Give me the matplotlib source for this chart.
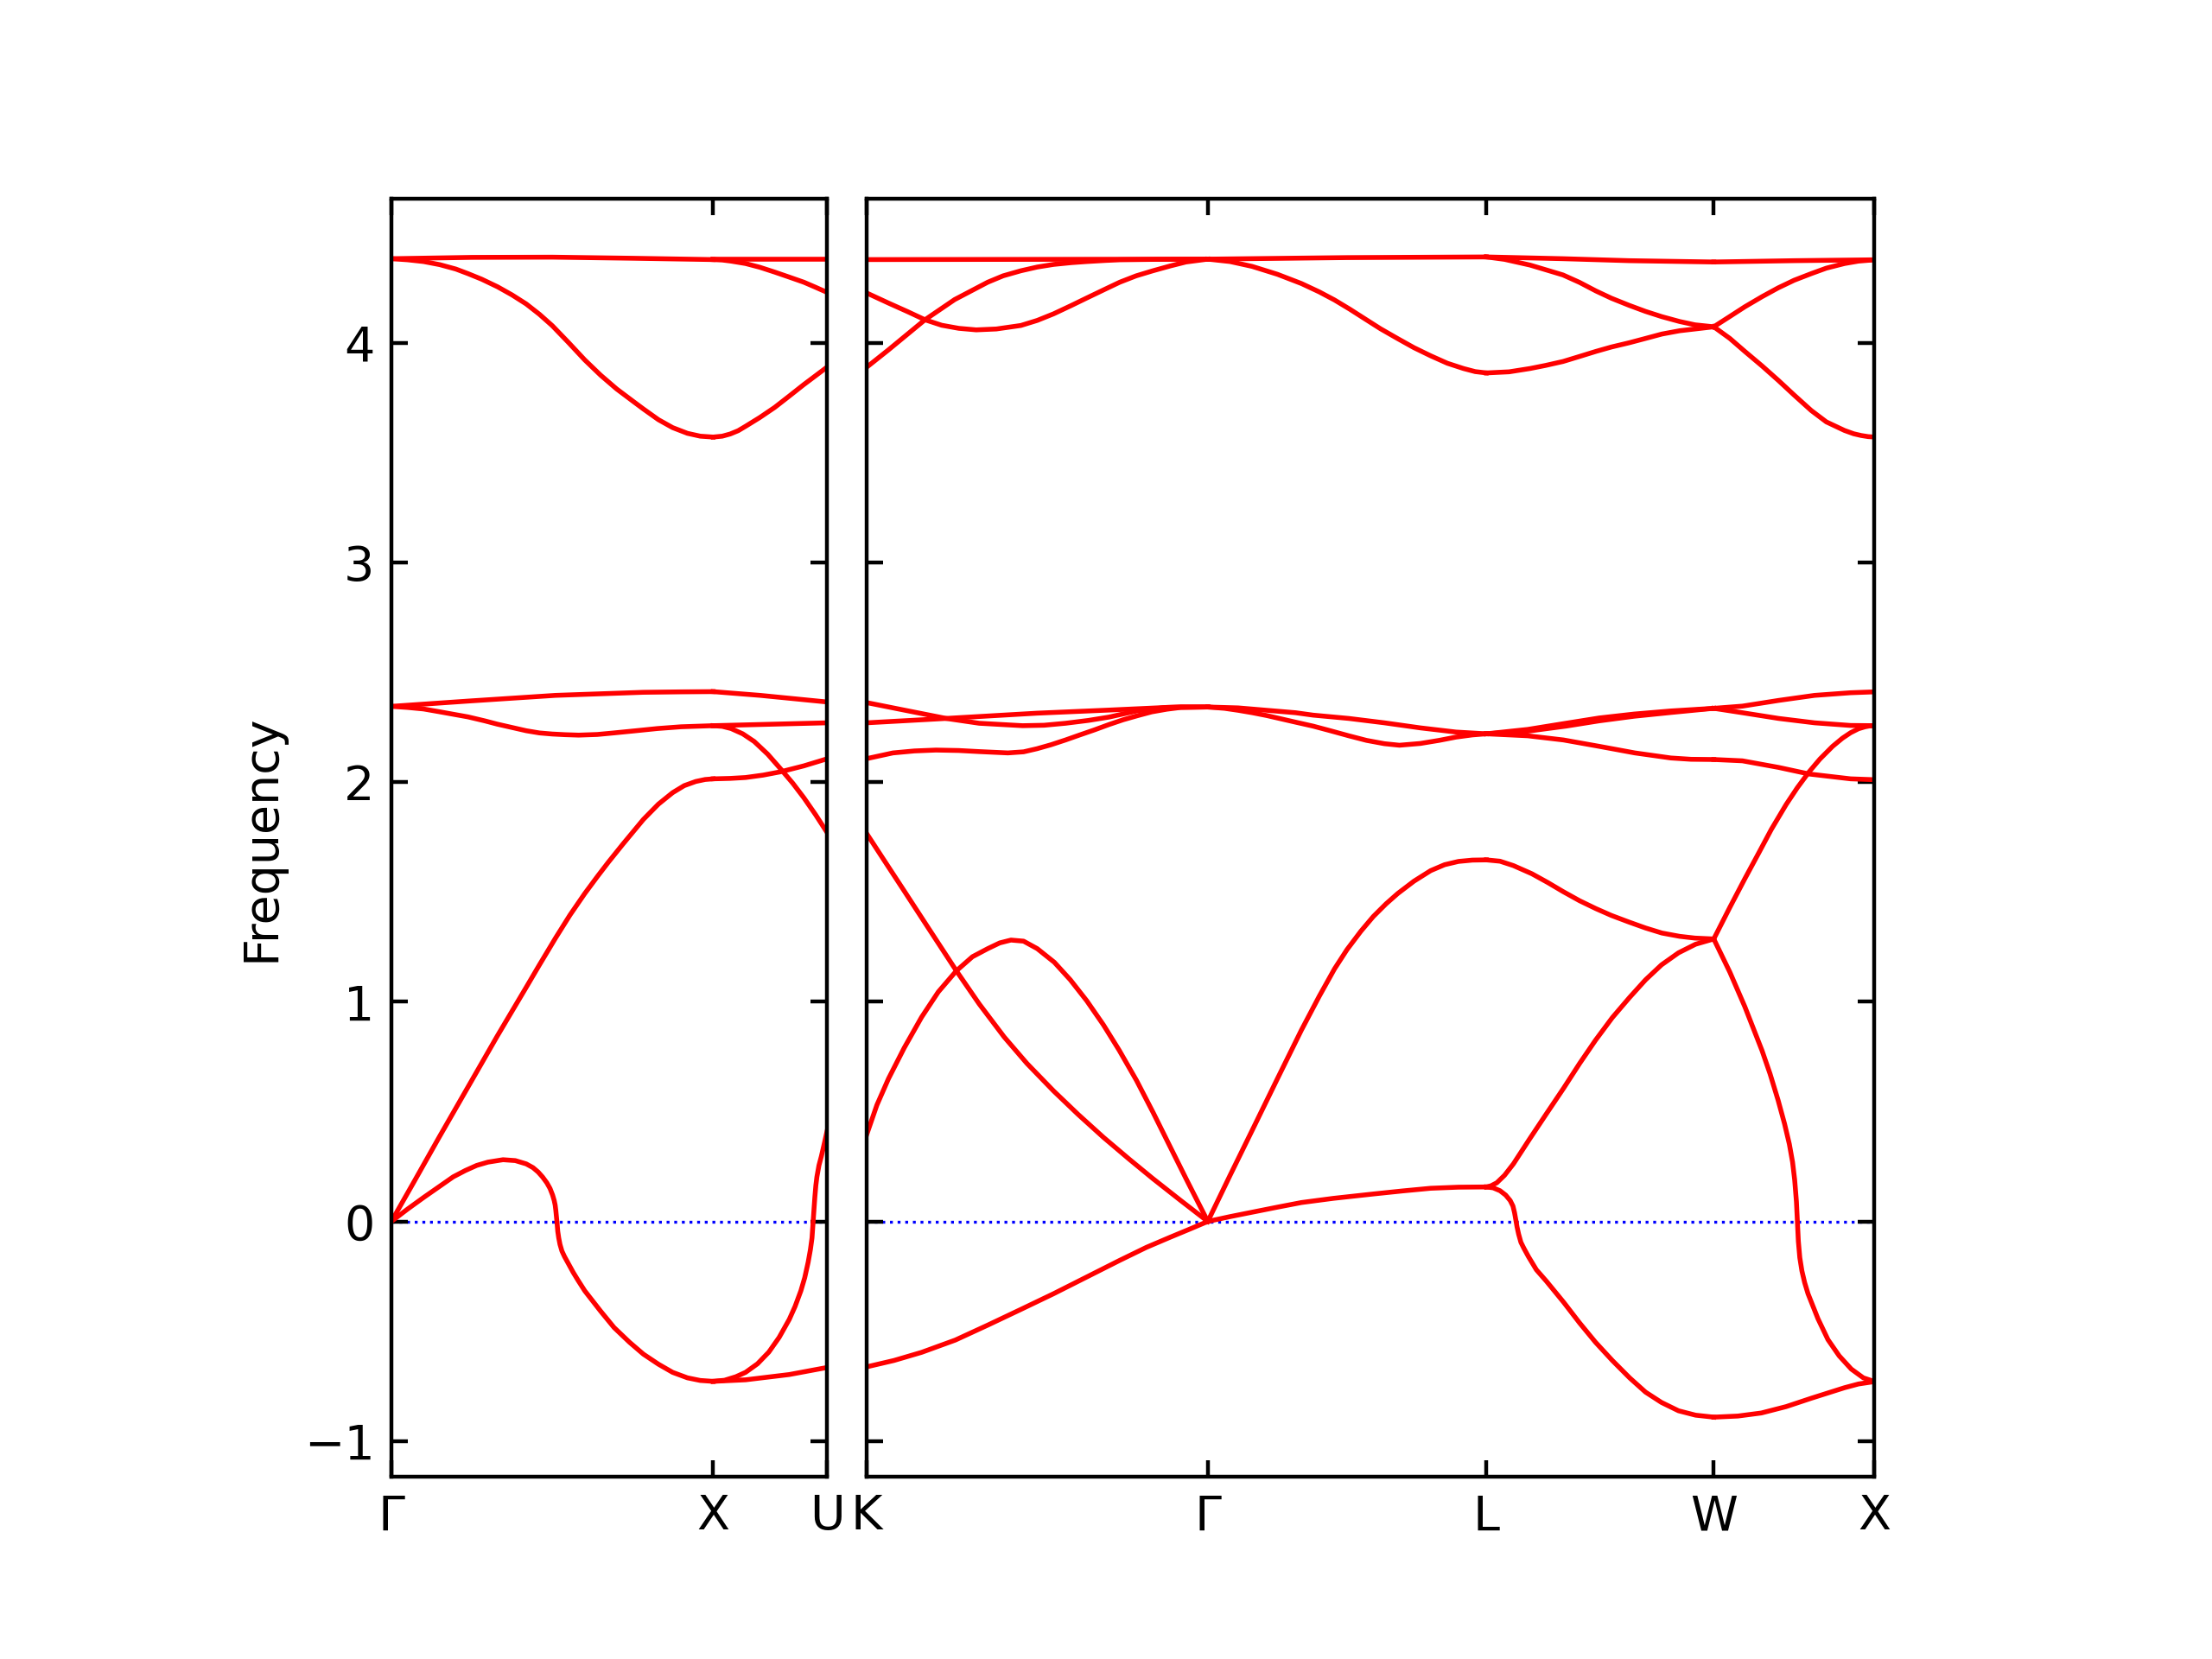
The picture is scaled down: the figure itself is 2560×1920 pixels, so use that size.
import numpy as np
import matplotlib
matplotlib.use("Agg")
import matplotlib.pyplot as plt

# ---------------- path geometry ----------------
# x-distance covered by every segment of the q-path
seg_lengths = [1.0, 0.35355, 1.06066, 0.86603, 0.70711, 0.5]   # Γ-X, X-U, K-Γ, Γ-L, L-W, W-X
left_labels = ["Γ", "X", "U"]
right_labels = ["K", "Γ", "L", "W", "X"]
yticks = [-1, 0, 1, 2, 3, 4]
ylim = (-1.162, 4.656)

# ---------------- band data ----------------
# every branch: (fractional position along the segment, frequency)
band_GX = [
    ([0, 0.25, 0.5, 0.75, 1], [4.383, 4.389, 4.390, 4.385, 4.379]),
    ([0, 0.05, 0.1, 0.15, 0.2, 0.238, 0.28, 0.33, 0.375, 0.419, 0.46, 0.5, 0.55, 0.601,
      0.65, 0.7, 0.75, 0.783, 0.83, 0.874, 0.92, 0.96, 1],
     [4.383, 4.378, 4.370, 4.356, 4.336, 4.315, 4.290, 4.255, 4.218, 4.177, 4.130, 4.078,
      4.002, 3.922, 3.853, 3.790, 3.735, 3.699, 3.650, 3.614, 3.588, 3.575, 3.571]),
    ([0, 0.238, 0.51, 0.783, 0.9, 1], [2.345, 2.369, 2.395, 2.409, 2.411, 2.412]),
    ([0, 0.05, 0.1, 0.147, 0.2, 0.238, 0.29, 0.329, 0.38, 0.419, 0.46, 0.5, 0.54, 0.582,
      0.64, 0.691, 0.76, 0.827, 0.9, 1],
     [2.345, 2.340, 2.333, 2.321, 2.307, 2.297, 2.279, 2.264, 2.247, 2.234, 2.224, 2.219,
      2.216, 2.214, 2.217, 2.224, 2.234, 2.244, 2.252, 2.257]),
    ([0, 0.07, 0.147, 0.238, 0.329, 0.419, 0.46, 0.51, 0.555, 0.601, 0.64, 0.674, 0.719,
      0.783, 0.83, 0.874, 0.91, 0.946, 0.975, 1],
     [0, 0.180, 0.380, 0.612, 0.844, 1.066, 1.168, 1.290, 1.395, 1.493, 1.570, 1.635, 1.717,
      1.830, 1.900, 1.952, 1.984, 2.003, 2.012, 2.015]),
    ([0, 0.05, 0.101, 0.15, 0.192, 0.23, 0.265, 0.3, 0.347, 0.385, 0.419, 0.44, 0.456, 0.47,
      0.483, 0.493, 0.501, 0.506, 0.509, 0.511, 0.513, 0.515, 0.517, 0.52, 0.524, 0.53,
      0.538, 0.55, 0.565, 0.58, 0.601, 0.65, 0.692, 0.74, 0.783, 0.83, 0.874, 0.92, 0.96, 1],
     [0, 0.056, 0.110, 0.160, 0.203, 0.232, 0.255, 0.270, 0.281, 0.277, 0.262, 0.245, 0.225,
      0.202, 0.176, 0.150, 0.120, 0.095, 0.074, 0.050, 0.020, -0.010, -0.045, -0.075,
      -0.105, -0.135, -0.160, -0.192, -0.232, -0.268, -0.316, -0.408, -0.483, -0.550,
      -0.604, -0.650, -0.687, -0.712, -0.724, -0.728]),
]

band_XU = [
    ([0, 0.5, 1], [4.379, 4.379, 4.379]),
    ([0, 0.08, 0.157, 0.285, 0.41, 0.541, 0.67, 0.797, 0.9, 1],
     [4.379, 4.377, 4.372, 4.361, 4.344, 4.322, 4.299, 4.276, 4.253, 4.230]),
    ([0, 0.08, 0.15, 0.22, 0.285, 0.41, 0.541, 0.67, 0.797, 0.9, 1],
     [3.571, 3.575, 3.585, 3.600, 3.620, 3.660, 3.706, 3.758, 3.810, 3.850, 3.889]),
    ([0, 0.413, 1], [2.412, 2.395, 2.365]),
    ([0, 1], [2.257, 2.270]),
    ([0, 0.08, 0.157, 0.26, 0.361, 0.48, 0.592, 0.7, 0.797, 0.9, 1],
     [2.257, 2.254, 2.244, 2.220, 2.185, 2.127, 2.061, 1.995, 1.929, 1.852, 1.772]),
    ([0, 0.15, 0.285, 0.44, 0.592, 0.797, 1], [2.015, 2.017, 2.021, 2.032, 2.047, 2.074, 2.106]),
    ([0, 0.285, 0.669, 1], [-0.728, -0.721, -0.697, -0.665]),
    ([0, 0.1, 0.2, 0.285, 0.39, 0.489, 0.58, 0.669, 0.72, 0.771, 0.805, 0.835, 0.855, 0.869,
      0.879, 0.887, 0.894, 0.903, 0.912, 0.93, 0.951, 0.975, 1.0],
     [-0.728, -0.723, -0.707, -0.687, -0.648, -0.595, -0.528, -0.446, -0.387, -0.316, -0.256,
      -0.186, -0.128, -0.075, 0.0, 0.060, 0.111, 0.165, 0.203, 0.255, 0.296, 0.350, 0.408]),
]

band_KG = [
    ([0, 1], [4.379, 4.381]),
    ([0, 0.064, 0.12, 0.171, 0.22, 0.27, 0.321, 0.38, 0.452, 0.5, 0.548, 0.6, 0.645, 0.7,
      0.742, 0.79, 0.839, 0.89, 0.936, 1],
     [4.227, 4.181, 4.142, 4.105, 4.080, 4.066, 4.059, 4.063, 4.079, 4.102, 4.132, 4.170,
      4.204, 4.245, 4.276, 4.305, 4.328, 4.350, 4.368, 4.381]),
    ([0, 0.064, 0.171, 0.258, 0.355, 0.4, 0.452, 0.5, 0.548, 0.6, 0.645, 0.7, 0.742, 0.85, 1],
     [3.889, 3.968, 4.105, 4.197, 4.276, 4.305, 4.328, 4.345, 4.357, 4.365, 4.370, 4.375,
      4.378, 4.380, 4.381]),
    ([0, 0.1, 0.233, 0.33, 0.457, 0.52, 0.583, 0.65, 0.71, 0.794, 0.878, 0.921, 1],
     [2.362, 2.331, 2.290, 2.268, 2.257, 2.259, 2.268, 2.281, 2.296, 2.325, 2.340, 2.343, 2.342]),
    ([0, 0.233, 0.5, 0.71, 0.878, 1], [2.270, 2.290, 2.314, 2.328, 2.340, 2.342]),
    ([0, 0.077, 0.14, 0.203, 0.27, 0.330, 0.414, 0.46, 0.499, 0.54, 0.583, 0.625, 0.668,
      0.71, 0.752, 0.795, 0.836, 0.88, 0.921, 1],
     [2.107, 2.133, 2.142, 2.146, 2.144, 2.139, 2.133, 2.138, 2.152, 2.170, 2.192, 2.215,
      2.238, 2.262, 2.284, 2.303, 2.320, 2.332, 2.340, 2.342]),
    ([0, 0.05, 0.112, 0.18, 0.263, 0.33, 0.403, 0.47, 0.548, 0.62, 0.694, 0.77, 0.839, 0.92, 1],
     [1.766, 1.647, 1.500, 1.338, 1.141, 0.990, 0.840, 0.719, 0.594, 0.487, 0.383, 0.283,
      0.195, 0.096, 0]),
    ([0, 0.03, 0.064, 0.11, 0.161, 0.21, 0.263, 0.31, 0.355, 0.39, 0.423, 0.46, 0.5, 0.55,
      0.597, 0.645, 0.694, 0.74, 0.791, 0.84, 0.888, 0.94, 1],
     [0.395, 0.530, 0.650, 0.790, 0.930, 1.045, 1.141, 1.205, 1.242, 1.268, 1.281, 1.276,
      1.242, 1.180, 1.100, 1.005, 0.895, 0.780, 0.642, 0.495, 0.345, 0.183, 0]),
    ([0, 0.08, 0.161, 0.26, 0.355, 0.45, 0.548, 0.645, 0.742, 0.82, 0.888, 0.95, 1],
     [-0.662, -0.633, -0.596, -0.540, -0.472, -0.402, -0.329, -0.253, -0.177, -0.118,
      -0.073, -0.033, 0]),
]

band_GL = [
    ([0, 0.5, 1], [4.381, 4.388, 4.391]),
    ([0, 0.08, 0.159, 0.25, 0.336, 0.4, 0.455, 0.51, 0.563, 0.62, 0.682, 0.74, 0.8, 0.86,
      0.918, 0.96, 1],
     [4.381, 4.370, 4.348, 4.312, 4.270, 4.232, 4.195, 4.153, 4.110, 4.064, 4.019, 3.978,
      3.941, 3.907, 3.883, 3.869, 3.863]),
    ([0, 0.109, 0.212, 0.315, 0.378, 0.506, 0.634, 0.763, 0.891, 1],
     [2.342, 2.338, 2.327, 2.316, 2.305, 2.290, 2.270, 2.247, 2.228, 2.220]),
    ([0, 0.06, 0.109, 0.16, 0.212, 0.315, 0.378, 0.44, 0.506, 0.57, 0.634, 0.688, 0.763,
      0.83, 0.891, 0.95, 1],
     [2.342, 2.336, 2.327, 2.316, 2.303, 2.273, 2.255, 2.234, 2.211, 2.190, 2.175, 2.168,
      2.176, 2.190, 2.205, 2.215, 2.220]),
    ([0, 0.08, 0.159, 0.25, 0.336, 0.4, 0.455, 0.5, 0.55, 0.594, 0.64, 0.682, 0.74, 0.8,
      0.85, 0.9, 0.95, 1],
     [0, 0.210, 0.414, 0.650, 0.871, 1.025, 1.150, 1.238, 1.322, 1.388, 1.446, 1.493, 1.549,
      1.597, 1.624, 1.639, 1.645, 1.646]),
    ([0, 0.08, 0.159, 0.25, 0.336, 0.45, 0.594, 0.7, 0.8, 0.9, 1],
     [0, 0.022, 0.042, 0.065, 0.086, 0.105, 0.125, 0.139, 0.151, 0.156, 0.157]),
]

band_LW = [
    ([0, 0.337, 0.627, 1], [4.391, 4.383, 4.374, 4.368]),
    ([0, 0.08, 0.192, 0.26, 0.337, 0.41, 0.482, 0.55, 0.627, 0.7, 0.772, 0.85, 0.917, 1],
     [4.391, 4.380, 4.354, 4.333, 4.309, 4.275, 4.236, 4.203, 4.171, 4.143, 4.119, 4.097,
      4.082, 4.073]),
    ([0, 0.1, 0.192, 0.26, 0.337, 0.41, 0.482, 0.55, 0.627, 0.7, 0.772, 0.85, 0.917, 1],
     [3.863, 3.868, 3.883, 3.897, 3.915, 3.938, 3.961, 3.981, 4.000, 4.020, 4.040, 4.055,
      4.063, 4.073]),
    ([0, 0.182, 0.35, 0.496, 0.65, 0.811, 1], [2.220, 2.240, 2.268, 2.292, 2.310, 2.324, 2.336]),
    ([0, 0.182, 0.35, 0.496, 0.65, 0.811, 1], [2.220, 2.232, 2.255, 2.279, 2.300, 2.317, 2.336]),
    ([0, 0.182, 0.339, 0.496, 0.653, 0.811, 0.9, 1],
     [2.220, 2.211, 2.192, 2.163, 2.133, 2.110, 2.104, 2.103]),
    ([0, 0.06, 0.119, 0.2, 0.27, 0.337, 0.41, 0.482, 0.55, 0.627, 0.7, 0.772, 0.85, 0.917, 1],
     [1.646, 1.640, 1.620, 1.583, 1.543, 1.502, 1.460, 1.424, 1.393, 1.363, 1.336, 1.313,
      1.298, 1.290, 1.286]),
    ([0, 0.02, 0.046, 0.08, 0.119, 0.19, 0.264, 0.34, 0.410, 0.48, 0.554, 0.63, 0.700, 0.77,
      0.845, 0.92, 1],
     [0.157, 0.162, 0.176, 0.210, 0.262, 0.375, 0.490, 0.607, 0.719, 0.825, 0.928, 1.020,
      1.100, 1.168, 1.223, 1.262, 1.286]),
    ([0, 0.03, 0.06, 0.085, 0.105, 0.117, 0.124, 0.130, 0.135, 0.142, 0.152, 0.165, 0.185,
      0.220, 0.264, 0.34, 0.410, 0.48, 0.554, 0.63, 0.700, 0.77, 0.845, 0.92, 1],
     [0.157, 0.153, 0.140, 0.120, 0.095, 0.070, 0.040, 0.005, -0.025, -0.058, -0.095,
      -0.122, -0.160, -0.220, -0.272, -0.368, -0.462, -0.550, -0.633, -0.712, -0.777,
      -0.824, -0.862, -0.882, -0.891]),
]

band_WX = [
    ([0, 0.5, 1], [4.368, 4.374, 4.378]),
    ([0, 0.1, 0.193, 0.3, 0.400, 0.5, 0.606, 0.7, 0.813, 0.9, 1],
     [4.073, 4.120, 4.164, 4.210, 4.250, 4.285, 4.315, 4.340, 4.361, 4.372, 4.378]),
    ([0, 0.1, 0.193, 0.3, 0.400, 0.5, 0.606, 0.7, 0.813, 0.87, 0.917, 0.96, 1],
     [4.073, 4.020, 3.961, 3.895, 3.830, 3.762, 3.692, 3.640, 3.601, 3.586, 3.578, 3.573, 3.571]),
    ([0, 0.178, 0.403, 0.627, 0.851, 1], [2.336, 2.346, 2.372, 2.395, 2.407, 2.411]),
    ([0, 0.178, 0.403, 0.627, 0.851, 1], [2.336, 2.316, 2.290, 2.270, 2.258, 2.257]),
    ([0, 0.178, 0.403, 0.593, 0.851, 1], [2.103, 2.097, 2.067, 2.037, 2.015, 2.011]),
    ([0, 0.1, 0.193, 0.28, 0.358, 0.45, 0.52, 0.593, 0.66, 0.739, 0.8, 0.851, 0.9, 0.941, 0.97, 1],
     [1.286, 1.430, 1.560, 1.678, 1.785, 1.898, 1.975, 2.047, 2.105, 2.163, 2.200, 2.225,
      2.243, 2.252, 2.256, 2.257]),
    ([0, 0.1, 0.193, 0.3, 0.35, 0.4, 0.44, 0.47, 0.49, 0.503, 0.514, 0.520, 0.526, 0.535,
      0.548, 0.565, 0.586, 0.648, 0.710, 0.78, 0.855, 0.93, 1],
     [1.286, 1.135, 0.978, 0.778, 0.672, 0.552, 0.445, 0.352, 0.270, 0.190, 0.090, 0.0,
      -0.090, -0.165, -0.225, -0.278, -0.329, -0.443, -0.538, -0.612, -0.672, -0.712, -0.729]),
    ([0, 0.15, 0.296, 0.45, 0.606, 0.813, 0.9, 1],
     [-0.891, -0.886, -0.872, -0.843, -0.805, -0.757, -0.740, -0.729]),
]

segments = [band_GX, band_XU, band_KG, band_GL, band_LW, band_WX]

# ---------------- drawing ----------------
starts = np.concatenate([[0.0], np.cumsum(seg_lengths)])
fig = plt.figure(figsize=(6.4, 4.8), dpi=400)
ax_l = fig.add_axes([0.17695, 0.1099, 0.19688, 0.77031])
ax_r = fig.add_axes([0.39180, 0.1099, 0.45566, 0.77031])

axes_for_seg = [ax_l, ax_l, ax_r, ax_r, ax_r, ax_r]
for ax in (ax_l, ax_r):
    ax.axhline(0, linestyle=":", linewidth=0.6, color="b", zorder=1)

for i, seg in enumerate(segments):
    ax = axes_for_seg[i]
    for f, v in seg:
        x = starts[i] + np.asarray(f) * seg_lengths[i]
        ax.plot(x, v, "r-", linewidth=1.0, zorder=2, solid_joinstyle="round")

ax_l.set_xlim(starts[0], starts[2])
ax_l.set_xticks(starts[0:3])
ax_l.set_xticklabels(left_labels)
ax_r.set_xlim(starts[2], starts[6])
ax_r.set_xticks(starts[2:7])
ax_r.set_xticklabels(right_labels)

for ax in (ax_l, ax_r):
    ax.set_ylim(*ylim)
    ax.set_yticks(yticks)
    ax.xaxis.set_ticks_position("both")
    ax.yaxis.set_ticks_position("both")
    ax.tick_params(which="both", direction="in")
ax_r.tick_params(labelleft=False)
ax_l.set_ylabel("Frequency")

fig.savefig("out.png", dpi=400)
